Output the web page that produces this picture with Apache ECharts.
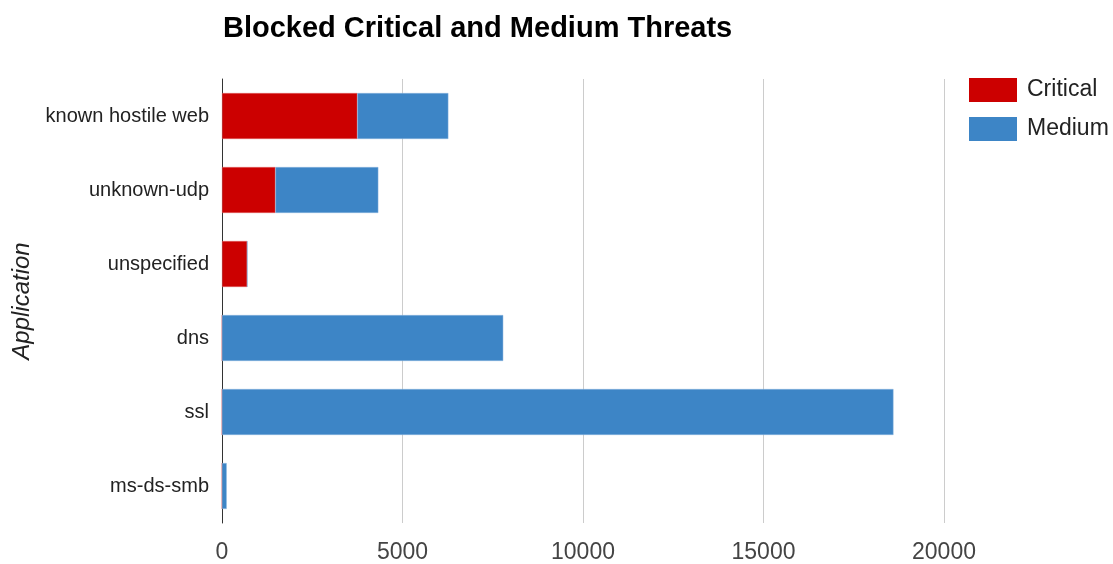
<!DOCTYPE html>
<html>
<head>
<meta charset="utf-8">
<script src="https://cdn.jsdelivr.net/npm/echarts@6/dist/echarts.min.js"></script>
<style>html,body{margin:0;padding:0;background:#fff}#c{width:1113px;height:564px}</style>
</head>
<body>
<div id="c"></div>
<script>
var categories = ['known hostile web', 'unknown-udp', 'unspecified', 'dns', 'ssl', 'ms-ds-smb'];
var critical = [3750, 1480, 700, 0, 0, 0];
var medium = [2520, 2850, 0, 7790, 18600, 130];
var xTicks = [0, 5000, 10000, 15000, 20000];

var chart = echarts.init(document.getElementById('c'));
chart.setOption({
  animation: false,
  textStyle: { fontFamily: 'Liberation Sans, Arial, sans-serif' },
  title: {
    text: 'Blocked Critical and Medium Threats',
    left: 218, top: 9,
    textStyle: { fontSize: 29, fontWeight: 'bold', color: '#000', fontFamily: 'Liberation Sans, Arial, sans-serif' }
  },
  legend: {
    orient: 'vertical', left: 964, top: 73,
    itemWidth: 48, itemHeight: 24, itemGap: 15,
    icon: 'rect',
    itemStyle: { borderWidth: 0 },
    textStyle: { fontSize: 23, color: '#222', padding: [3, 0, 0, 5] },
    data: ['Critical', 'Medium']
  },
  grid: { left: 222, right: 169, top: 79, bottom: 41, containLabel: false, outerBoundsMode: 'none' },
  xAxis: {
    type: 'value', min: xTicks[0], max: xTicks[xTicks.length - 1], interval: 5000,
    axisLine: { show: false }, axisTick: { show: false },
    splitLine: { show: true, lineStyle: { color: '#cccccc', width: 1 } },
    axisLabel: { fontSize: 23, color: '#444', margin: 18, formatter: function (v) { return String(v); } }
  },
  yAxis: {
    type: 'category', data: categories, inverse: true,
    name: 'Application', nameLocation: 'middle', nameGap: 188,
    nameTextStyle: { fontSize: 24, fontStyle: 'italic', color: '#222' },
    axisLine: { show: true, lineStyle: { color: '#333', width: 1 } },
    axisTick: { show: false },
    axisLabel: { fontSize: 20, color: '#222', margin: 13, padding: [3, 0, 0, 0] }
  },
  series: [
    { name: 'Critical', type: 'bar', stack: 'a', data: critical, barCategoryGap: '38%',
      itemStyle: { color: '#cc0000', borderColor: '#e06666', borderWidth: 0.5 } },
    { name: 'Medium', type: 'bar', stack: 'a', data: medium, barCategoryGap: '38%',
      itemStyle: { color: '#3d85c6', borderColor: '#8ab4df', borderWidth: 0.5 } }
  ]
});
</script>
</body>
</html>
